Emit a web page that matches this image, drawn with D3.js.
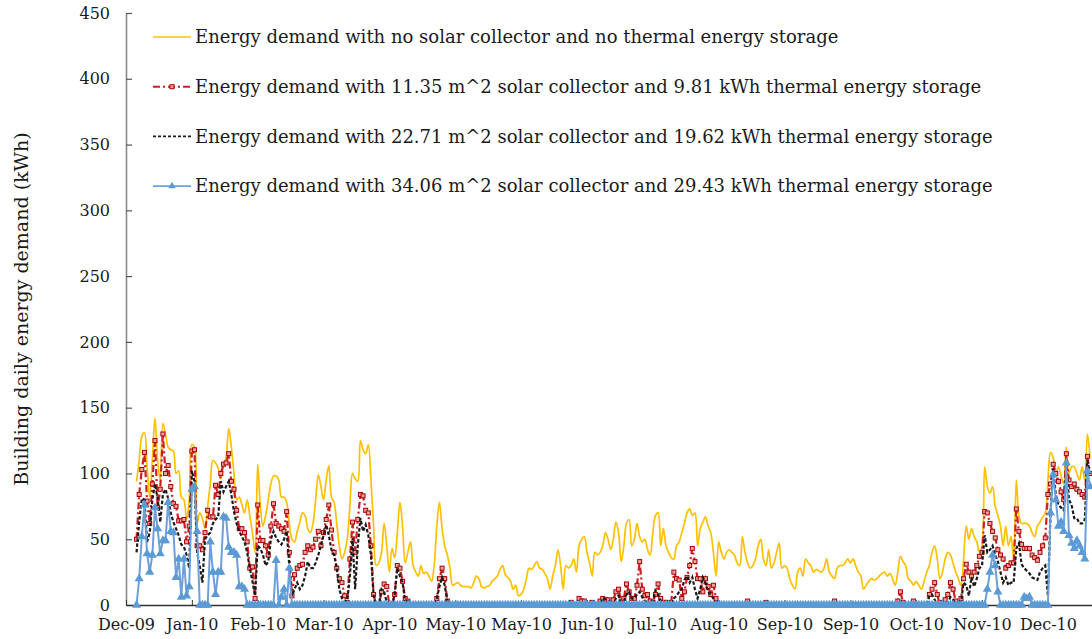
<!DOCTYPE html>
<html>
<head>
<meta charset="utf-8">
<script src="https://cdn.jsdelivr.net/npm/d3@7"></script>
<style>
  body { margin: 0; background: #fff; }
  text { font-family: "DejaVu Serif", "Liberation Serif", serif; fill: #1a1a1a; }
</style>
</head>
<body>
<svg id="chart"></svg>
<script>
// daily building energy demand (kWh), one value per day starting at the first data day
const noSolar = [
  94,110,128,131,105,82,110,142,110,95,
  138,130,120,118,117,100,102,82,80,65,
  80,122,120,62,70,66,58,75,92,110,
  108,104,96,105,112,134,120,100,80,82,
  76,70,80,68,55,40,107,75,60,68,
  80,92,98,98,95,82,82,78,62,50,
  48,56,63,70,68,58,55,62,80,99,
  90,80,95,106,82,78,62,45,35,40,
  50,75,100,96,94,125,118,115,122,95,
  60,30,32,40,62,45,25,43,36,55,
  78,60,32,40,48,30,25,22,30,24,
  25,22,18,30,60,78,58,45,38,28,
  15,16,17,15,14,14,14,13,17,22,
  20,14,13,14,15,18,20,22,27,30,
  23,21,18,12,15,7,8,12,20,28,
  27,30,33,28,27,24,20,12,22,30,
  42,30,12,30,28,30,35,25,45,50,
  52,40,32,22,40,38,40,45,55,50,
  42,50,63,55,33,45,62,65,45,50,
  62,52,48,50,42,38,55,68,70,45,
  58,45,40,36,35,45,48,55,62,70,
  73,68,70,45,58,63,67,60,55,40,
  22,48,40,35,40,42,40,38,32,30,
  52,40,32,28,30,35,45,50,35,30,
  42,28,32,40,47,28,30,28,20,15,
  12,25,28,22,35,32,30,25,27,26,
  25,28,35,25,22,20,28,30,30,32,
  35,32,35,30,25,22,12,15,18,20,
  19,20,22,24,25,22,24,20,15,25,
  37,33,30,20,18,15,18,15,12,18,
  25,30,40,45,35,20,25,35,40,38,
  32,25,20,15,35,60,50,58,52,48,
  40,45,105,90,85,90,75,68,60,45,
  60,45,52,35,95,68,62,62,62,60,
  55,52,60,63,67,70,95,116,112,100,
  105,98,92,120,100,105,105,100,95,105,
  95,130,112
];

const solar1135 = [
  50,84,103,116,79,62,92,125,74,88,
  130,100,106,90,77,75,64,64,65,48,
  60,117,118,45,45,42,55,72,67,67,
  91,84,100,107,108,115,94,88,72,58,
  58,55,48,28,29,5,76,49,49,45,
  38,60,77,62,60,58,56,71,40,7,
  23,28,30,31,40,45,42,44,50,56,
  45,55,65,76,57,40,28,20,17,7,
  2,35,63,40,65,84,83,72,70,45,
  8,0,0,10,16,14,0,0,8,30,
  28,18,5,3,0,0,0,0,0,0,
  0,0,0,0,5,20,28,20,3,0,
  0,0,0,0,0,0,0,0,0,0,
  0,0,0,0,0,0,0,0,0,0,
  0,0,0,0,0,0,0,0,0,0,
  0,0,0,0,0,0,0,0,0,0,
  0,0,0,0,0,2,0,0,5,3,
  3,0,0,2,0,0,3,5,4,4,
  2,4,10,12,3,5,16,10,5,5,
  15,33,12,7,8,3,2,8,16,5,
  2,2,0,2,25,20,19,5,10,21,
  30,43,33,20,20,10,20,14,8,15,
  5,0,0,0,0,0,0,0,0,0,
  0,0,3,0,0,0,0,0,0,2,
  0,0,0,0,0,0,0,0,0,0,
  0,0,0,0,0,0,0,0,0,0,
  0,0,0,0,0,3,0,0,0,0,
  0,0,0,0,0,0,0,0,0,0,
  0,0,0,0,0,0,0,0,0,3,
  10,2,0,0,0,3,0,0,0,0,
  0,8,12,17,8,0,2,4,8,17,
  12,3,0,5,20,31,25,22,25,30,
  37,40,71,70,62,56,51,42,38,35,
  28,30,32,32,73,56,46,43,43,43,
  38,36,34,40,45,51,84,92,107,100,
  94,86,80,115,95,90,92,88,86,84,
  82,113,100
];

const solar2271 = [
  40,63,81,80,48,55,80,92,81,63,
  84,88,81,70,63,58,53,46,44,38,
  28,102,94,40,30,17,50,53,55,62,
  65,67,94,86,90,94,84,71,62,56,
  52,48,40,28,18,7,45,43,38,30,
  33,50,56,51,48,46,50,56,30,7,
  12,17,12,15,22,33,28,28,32,38,
  45,53,61,53,42,38,28,12,5,3,
  3,22,51,12,45,66,56,61,53,38,
  7,0,0,12,10,2,0,0,8,28,
  22,17,3,3,0,0,0,0,0,0,
  0,0,0,0,5,14,21,15,3,0,
  0,0,0,0,0,0,0,0,0,0,
  0,0,0,0,0,0,0,0,0,0,
  0,0,0,0,0,0,0,0,0,0,
  0,0,0,0,0,0,0,0,0,0,
  0,0,0,0,0,0,0,0,0,0,
  0,0,0,0,0,0,0,5,4,2,
  0,0,5,7,2,3,8,10,5,5,
  8,10,6,3,2,0,2,11,8,3,
  0,0,0,0,5,7,10,12,19,22,
  17,21,12,5,12,21,17,10,8,5,
  2,0,0,0,0,0,0,0,0,0,
  0,0,0,0,0,0,0,0,0,0,
  0,0,0,0,0,0,0,0,0,0,
  0,0,0,0,0,0,0,0,0,0,
  0,0,0,0,0,0,0,0,0,0,
  0,0,0,0,0,0,0,0,0,0,
  0,0,0,0,0,0,0,0,0,0,
  0,0,0,0,0,0,0,0,0,0,
  0,7,8,4,0,0,0,0,2,6,
  4,0,0,2,17,15,7,21,14,20,
  28,30,53,40,42,45,38,33,25,17,
  21,15,17,17,43,47,31,28,26,24,
  21,20,19,25,28,30,7,71,104,84,
  76,74,72,109,80,76,66,66,62,62,
  65,110,99
];

const solar3406 = [
  0,20,52,76,39,25,38,74,58,39,
  49,49,78,56,55,21,35,6,35,7,
  14,88,90,56,0,0,0,0,48,25,
  8,25,25,67,66,44,40,40,38,14,
  14,12,0,0,0,0,0,0,0,0,
  0,0,0,34,0,6,12,0,28,0,
  0,0,0,0,0,0,0,0,0,0,
  0,0,0,0,0,0,0,0,0,0,
  0,0,0,0,0,0,0,0,0,0,
  0,0,0,0,0,0,0,0,0,0,
  0,0,0,0,0,0,0,0,0,0,
  0,0,0,0,0,0,0,0,0,0,
  0,0,0,0,0,0,0,0,0,0,
  0,0,0,0,0,0,0,0,0,0,
  0,0,0,0,0,0,0,0,0,0,
  0,0,0,0,0,0,0,0,0,0,
  0,0,0,0,0,0,0,0,0,0,
  0,0,0,0,0,0,0,0,0,0,
  0,0,0,0,0,0,0,0,0,0,
  0,0,0,0,0,0,0,0,0,0,
  0,0,0,0,0,0,0,0,0,0,
  0,0,0,0,0,0,0,0,0,0,
  0,0,0,0,0,0,0,0,0,0,
  0,0,0,0,0,0,0,0,0,0,
  0,0,0,0,0,0,0,0,0,0,
  0,0,0,0,0,0,0,0,0,0,
  0,0,0,0,0,0,0,0,0,0,
  0,0,0,0,0,0,0,0,0,0,
  0,0,0,0,0,0,0,0,0,0,
  0,0,0,0,0,0,0,0,0,0,
  0,0,0,0,0,0,0,0,0,0,
  0,0,0,0,0,0,0,0,0,0,
  0,0,0,12,25,38,30,10,0,0,
  0,0,0,0,0,0,0,6,5,6,
  0,0,0,0,0,0,0,70,99,80,
  60,63,56,108,53,47,43,49,45,40,
  35,102,90
];

const tickLabels = ['Dec-09','Jan-10','Feb-10','Mar-10','Apr-10','May-10','May-10','Jun-10',
  'Jul-10','Aug-10','Sep-10','Sep-10','Oct-10','Nov-10','Dec-10'];
const yTicks = [0,50,100,150,200,250,300,350,400,450];

const seriesNames = [
  'Energy demand with no solar collector and no thermal energy storage',
  'Energy demand with 11.35 m^2 solar collector and 9.81 kWh thermal energy storage',
  'Energy demand with 22.71 m^2 solar collector and 19.62 kWh thermal energy storage',
  'Energy demand with 34.06 m^2 solar collector and 29.43 kWh thermal energy storage'
];

const available = { width: 1092, height: 639 };
const margins = { top: 13, right: 0, bottom: 34, left: 126 };
const width = available.width - margins.left - margins.right;
const height = available.height - margins.top - margins.bottom;

// first date label sits 4 days before the first data day, labels every 25 days
const tickStart = -4, tickStep = 25;
const tickDays = tickLabels.map((d, i) => tickStart + i * tickStep);

const xScale = d3.scaleLinear().domain([tickStart, tickStart + width / 2.634]).range([0, width]);
const yScale = d3.scaleLinear().domain([0, 450]).range([height, 0]);

const svg = d3.select('#chart')
  .attr('width', available.width)
  .attr('height', available.height);

const chartG = svg.append('g')
  .attr('transform', `translate(${margins.left}, ${margins.top})`);

// y axis
const yAxis = d3.axisLeft(yScale).tickValues(yTicks).tickSizeInner(-6).tickSizeOuter(0).tickPadding(16);
const yG = chartG.append('g').attr('class', 'y-axis').call(yAxis);
yG.select('.domain').attr('stroke', '#858585').attr('stroke-width', 1.5);
yG.selectAll('.tick line').attr('stroke', '#555').attr('stroke-width', 1.2);
yG.selectAll('.tick text').attr('font-size', 16).attr('font-family', 'DejaVu Serif').attr('fill', '#1a1a1a');

svg.append('text')
  .attr('transform', `translate(28, ${margins.top + height / 2}) rotate(-90)`)
  .attr('text-anchor', 'middle')
  .attr('font-size', 19)
  .text('Building daily energy demand (kWh)');

// x axis
const xAxis = d3.axisBottom(xScale).tickValues(tickDays)
  .tickFormat((d, i) => tickLabels[i]).tickSizeInner(-5).tickSizeOuter(0).tickPadding(14);
const xG = chartG.append('g').attr('class', 'x-axis')
  .attr('transform', `translate(0, ${height})`).call(xAxis);
xG.select('.domain').attr('stroke', '#333').attr('stroke-width', 1.5);
xG.selectAll('.tick line').attr('stroke', '#333');
xG.selectAll('.tick text').attr('font-size', 16).attr('font-family', 'DejaVu Serif').attr('fill', '#1a1a1a');

const plotG = chartG.append('g');

const line = d3.line().x((d, i) => xScale(i)).y(d => yScale(d));
const smoothLine = d3.line().x((d, i) => xScale(i)).y(d => yScale(d)).curve(d3.curveCatmullRom.alpha(0.5));

plotG.append('path').datum(noSolar)
  .attr('d', smoothLine).attr('fill', 'none')
  .attr('stroke', '#ffc000').attr('stroke-width', 1.7);

plotG.append('path').datum(solar1135)
  .attr('d', line).attr('fill', 'none')
  .attr('stroke', '#cc1f1f').attr('stroke-width', 2.2)
  .attr('stroke-dasharray', '7,3,2,3');
plotG.selectAll('.red-marker').data(solar1135).enter()
  .append('rect').attr('class', 'red-marker')
  .attr('x', (d, i) => xScale(i) - 2).attr('y', d => yScale(d) - 2)
  .attr('width', 4).attr('height', 4)
  .attr('fill', '#f0a0a0').attr('stroke', '#a50000').attr('stroke-width', 1);

plotG.append('path').datum(solar2271)
  .attr('d', line).attr('fill', 'none')
  .attr('stroke', '#1a1a1a').attr('stroke-width', 2.2)
  .attr('stroke-dasharray', '3.5,2');

plotG.append('path').datum(solar3406)
  .attr('d', line).attr('fill', 'none')
  .attr('stroke', '#6e9fd8').attr('stroke-width', 2);
const tri = d3.symbol().type(d3.symbolTriangle).size(36);
plotG.selectAll('.blue-marker').data(solar3406).enter()
  .append('path').attr('class', 'blue-marker')
  .attr('transform', (d, i) => `translate(${xScale(i)}, ${yScale(d)})`)
  .attr('d', tri).attr('fill', '#5b9bd5');

// legend
const legendStyles = [
  { stroke: '#ffc000', dash: null, width: 1.6 },
  { stroke: '#cc1f1f', dash: '7,3,2,3', width: 2 },
  { stroke: '#1a1a1a', dash: '3,2', width: 1.6 },
  { stroke: '#6e9fd8', dash: null, width: 1.8 }
];
const legendTri = d3.symbol().type(d3.symbolTriangle).size(24);
const legendG = svg.append('g').attr('transform', 'translate(153, 37)');
const rows = legendG.selectAll('.legend-row').data(seriesNames).enter()
  .append('g').attr('class', 'legend-row')
  .attr('transform', (d, i) => `translate(0, ${i * 49.7})`);
rows.append('line')
  .attr('x1', 0).attr('x2', 38).attr('y1', 0).attr('y2', 0)
  .attr('stroke', (d, i) => legendStyles[i].stroke)
  .attr('stroke-width', (d, i) => legendStyles[i].width)
  .attr('stroke-dasharray', (d, i) => legendStyles[i].dash);
rows.filter((d, i) => i === 1).append('rect')
  .attr('x', 17).attr('y', -2).attr('width', 4).attr('height', 4)
  .attr('fill', '#f0a0a0').attr('stroke', '#a50000');
rows.filter((d, i) => i === 3).append('path')
  .attr('transform', 'translate(19, 0)').attr('d', legendTri).attr('fill', '#5b9bd5');
rows.append('text')
  .attr('x', 42).attr('y', 0).attr('dy', '0.35em')
  .attr('font-size', 18)
  .text(d => d);
</script>
</body>
</html>
